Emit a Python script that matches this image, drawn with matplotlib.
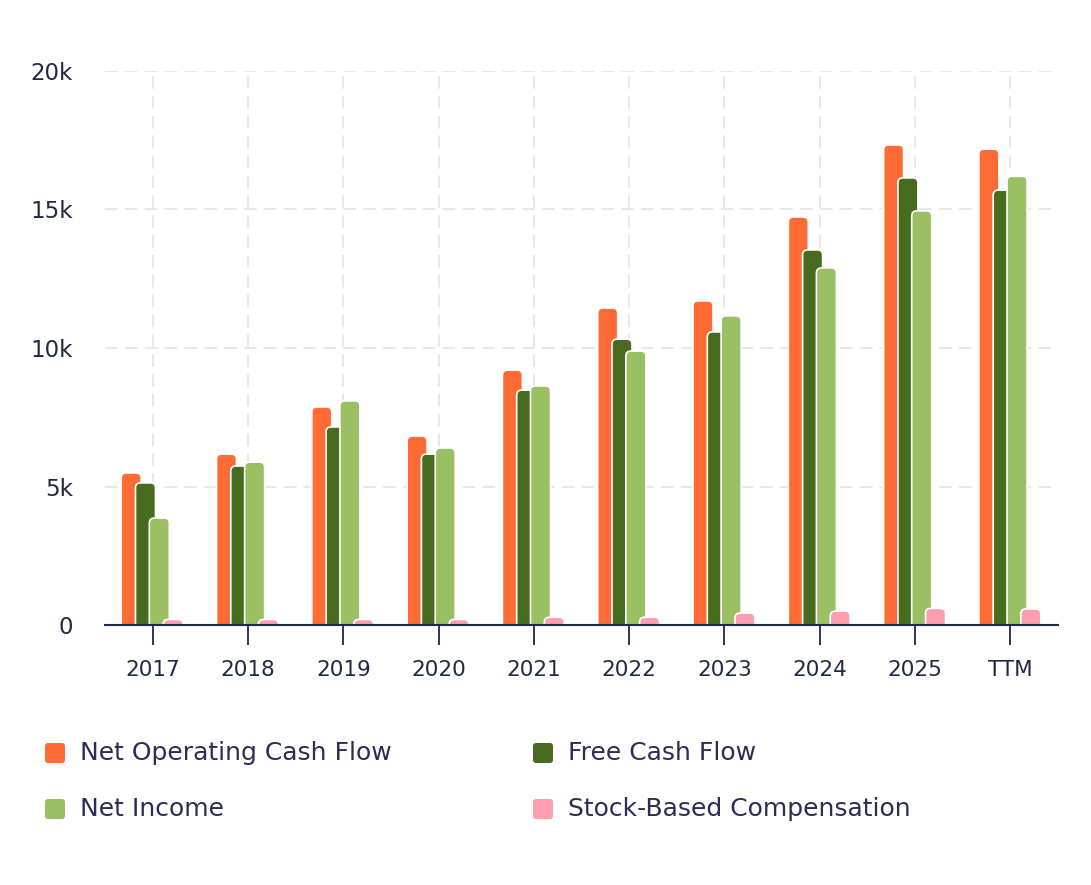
import numpy as np
import matplotlib
matplotlib.use("Agg")
import matplotlib.pyplot as plt
from matplotlib.patches import FancyBboxPatch
from matplotlib.ticker import FuncFormatter

# values in thousands
years = ['2017', '2018', '2019', '2020', '2021', '2022', '2023', '2024', '2025', 'TTM']
op_cash = [5.49, 6.17, 7.87, 6.82, 9.20, 11.44, 11.70, 14.73, 17.33, 17.18]
free_cash = [5.13, 5.74, 7.15, 6.17, 8.48, 10.32, 10.58, 13.54, 16.14, 15.70]
net_income = [3.86, 5.88, 8.09, 6.39, 8.63, 9.89, 11.16, 12.89, 14.95, 16.20]
sbc = [0.20, 0.20, 0.20, 0.20, 0.28, 0.28, 0.43, 0.50, 0.60, 0.58]

series = [('Net Operating Cash Flow', op_cash, '#ff6b35'),
          ('Free Cash Flow', free_cash, '#476b1f'),
          ('Net Income', net_income, '#9bbf63'),
          ('Stock-Based Compensation', sbc, '#ff9eae')]

text_col = '#1e2a44'
legend_col = '#2b2d57'
plt.rcParams['font.family'] = ['DejaVu Sans']

W, H = 1091, 885
fig = plt.figure(figsize=(W / 100, H / 100), dpi=100)
ax = fig.add_axes([105 / W, 1 - 625 / H, (1058 - 105) / W, (625 - 71) / H])

ax.set_xlim(-0.5, len(years) - 0.5)
ax.set_ylim(0, 20)

# scale so rounded corners look round in pixels
px_x = (len(years)) / (1058 - 105)
px_y = 20 / (625 - 71)
aspect = px_y / px_x

width = 0.21
offsets = [-0.225, -0.075, 0.07, 0.215]
x = np.arange(len(years))
for k, (name, vals, col) in enumerate(series):
    for i, v in enumerate(vals):
        left = x[i] + offsets[k] - width / 2
        p = FancyBboxPatch((left, -1.0), width, v + 1.0,
                           boxstyle='round,pad=0,rounding_size=%f' % (5 * px_x),
                           mutation_aspect=aspect,
                           facecolor=col, edgecolor='white', linewidth=1.2,
                           zorder=3 + k)
        ax.add_patch(p)

ax.set_xticks(x)
ax.set_xticklabels(years)
ax.set_yticks([0, 5, 10, 15, 20])
ax.yaxis.set_major_formatter(FuncFormatter(lambda v, p: '0' if v == 0 else '%dk' % v))

ax.grid(True, color='#e6e6e6', linestyle=(0, (7, 4)), linewidth=1.3, zorder=0)
ax.set_axisbelow(True)
for s in ['top', 'right', 'left']:
    ax.spines[s].set_visible(False)
ax.spines['bottom'].set_color(text_col)
ax.spines['bottom'].set_linewidth(1.5)
ax.spines['bottom'].set_zorder(10)

ax.tick_params(axis='x', length=14.5, width=1.3, color=text_col, pad=11,
               labelsize=15.5, labelcolor=text_col)
ax.tick_params(axis='y', length=0, pad=23, labelsize=16.5, labelcolor=text_col)
for lab in ax.get_yticklabels():
    lab.set_horizontalalignment('right')

# legend drawn by hand, two columns
legend_pos = [(45, 753), (533, 753), (45, 809), (533, 809)]
for (name, vals, col), (lx, ly) in zip(series, legend_pos):
    sq = FancyBboxPatch((lx / W, 1 - (ly + 10) / H), 20 / W, 20 / H,
                        boxstyle='round,pad=0,rounding_size=%f' % (3 / W),
                        mutation_aspect=W / H,
                        transform=fig.transFigure, facecolor=col,
                        edgecolor='none')
    fig.add_artist(sq)
    fig.text((lx + 35) / W, 1 - ly / H, name, fontsize=18, color=legend_col,
             va='center', ha='left')

fig.savefig('out.png', dpi=100, facecolor='white')
